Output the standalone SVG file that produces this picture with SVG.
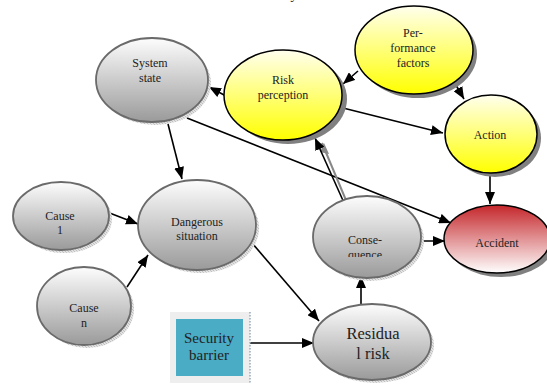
<svg xmlns="http://www.w3.org/2000/svg" width="547" height="385" viewBox="0 0 547 385">
<defs>
<linearGradient id="gGray" x1="0" y1="0" x2="0" y2="1">
<stop offset="0" stop-color="#fdfdfd"/>
<stop offset="1" stop-color="#9a9a9a"/>
</linearGradient>
<linearGradient id="gYellow" x1="0" y1="0" x2="0" y2="1">
<stop offset="0" stop-color="#ffffee"/>
<stop offset="1" stop-color="#ffff00"/>
</linearGradient>
<linearGradient id="gRed" x1="0" y1="0" x2="0" y2="1">
<stop offset="0" stop-color="#c4262a"/>
<stop offset="1" stop-color="#ffffff"/>
</linearGradient>
<pattern id="hatch" width="3" height="3" patternUnits="userSpaceOnUse">
<rect width="3" height="3" fill="#e2e2e2"/>
<path d="M0 0L3 3" stroke="#b8b8b8" stroke-width="0.8"/>
</pattern>
<marker id="arr" viewBox="0 0 12 10" refX="12" refY="5" markerWidth="12" markerHeight="10" markerUnits="userSpaceOnUse" orient="auto">
<path d="M0 0L12 5L0 10Z" fill="#000"/>
</marker>
<clipPath id="clipQ"><rect x="300" y="240" width="130" height="17"/></clipPath>
</defs>
<style>
.t{font-family:"Liberation Serif","Times New Roman",serif;font-size:12px;fill:#222;text-anchor:middle}
.big{font-size:16px}
.gray{fill:url(#gGray);stroke:#6a6a6a;stroke-width:1.8}
.ghost{fill:url(#hatch)}
.yel{fill:url(#gYellow);stroke:#000;stroke-width:1.5}
.ysh{fill:#808080}
.c{stroke:#000;stroke-width:1.6;fill:none;marker-end:url(#arr)}
</style>
<rect width="547" height="385" fill="#fff"/>
<text x="294" y="-1" class="t" style="font-size:14px">y</text>

<g id="connectors">
<line class="c" x1="358" y1="71" x2="343" y2="84"/>
<line class="c" x1="453" y1="80" x2="464" y2="99"/>
<line class="c" x1="343" y1="108" x2="443" y2="133"/>
<line class="c" x1="226" y1="96" x2="209" y2="87"/>
<line class="c" x1="168" y1="124" x2="182" y2="179"/>
<line class="c" x1="187" y1="118" x2="451" y2="223"/>
<line class="c" x1="410" y1="241" x2="445" y2="241"/>
<line x1="348" y1="205" x2="322" y2="143" stroke="#888" stroke-width="2"/>
<path d="M324 143L329 154L320 152Z" fill="#888"/>
<line class="c" x1="345" y1="205" x2="315" y2="138"/>
<line class="c" x1="252" y1="243" x2="319" y2="321"/>
<line class="c" x1="107" y1="212" x2="138" y2="224"/>
<line class="c" x1="127" y1="287" x2="148" y2="255"/>
<line class="c" x1="245" y1="343" x2="314" y2="343"/>
<line class="c" x1="361" y1="305" x2="361" y2="276"/>
<line class="c" x1="490" y1="174" x2="490" y2="204"/>
</g>

<g id="system-state">
<ellipse class="ghost" cx="155" cy="83" rx="56" ry="42"/>
<ellipse class="gray" cx="152" cy="80" rx="56" ry="42"/>
<text class="t" x="150" y="67">System</text>
<text class="t" x="150" y="82">state</text>
</g>

<g id="risk-perception">
<ellipse class="ysh" cx="288" cy="99" rx="59" ry="45"/>
<ellipse class="yel" cx="283" cy="95" rx="59" ry="45"/>
<text class="t" x="283" y="84">Risk</text>
<text class="t" x="283" y="99">perception</text>
</g>

<g id="performance-factors">
<ellipse class="ysh" cx="418" cy="54" rx="59" ry="44"/>
<ellipse class="yel" cx="414" cy="50" rx="59" ry="44"/>
<text class="t" x="413" y="37">Per-</text>
<text class="t" x="413" y="52">formance</text>
<text class="t" x="413" y="67">factors</text>
</g>

<g id="action">
<ellipse class="ysh" cx="495" cy="138" rx="46" ry="39"/>
<ellipse class="yel" cx="491" cy="134" rx="46" ry="39"/>
<text class="t" x="490" y="139">Action</text>
</g>

<g id="accident">
<ellipse class="ysh" cx="501" cy="243" rx="53" ry="34"/>
<ellipse cx="497" cy="239" rx="53" ry="34" fill="url(#gRed)" stroke="#000" stroke-width="1.5"/>
<text class="t" x="497" y="247">Accident</text>
</g>

<g id="consequence">
<ellipse class="ghost" cx="370" cy="240" rx="54" ry="41"/>
<ellipse class="gray" cx="367" cy="237" rx="54" ry="41"/>
<text class="t" x="365" y="244">Conse-</text>
<text class="t" x="365" y="259" clip-path="url(#clipQ)">quence</text>
</g>

<g id="dangerous-situation">
<ellipse class="ghost" cx="200" cy="228" rx="59" ry="45"/>
<ellipse class="gray" cx="197" cy="225" rx="59" ry="45"/>
<text class="t" x="197" y="226">Dangerous</text>
<text class="t" x="197" y="240">situation</text>
</g>

<g id="cause-1">
<ellipse class="ghost" cx="64" cy="219" rx="48" ry="34"/>
<ellipse class="gray" cx="61" cy="216" rx="48" ry="34"/>
<text class="t" x="60" y="220">Cause</text>
<text class="t" x="60" y="234">1</text>
</g>

<g id="cause-n">
<ellipse class="ghost" cx="87" cy="309" rx="47" ry="39"/>
<ellipse class="gray" cx="84" cy="306" rx="47" ry="39"/>
<text class="t" x="84" y="312">Cause</text>
<text class="t" x="84" y="327">n</text>
</g>

<g id="security-barrier">
<rect x="170" y="312" width="80" height="71" fill="#eeeeee"/>
<line x1="250" y1="312" x2="250" y2="383" stroke="#9ab" stroke-width="1.5" stroke-dasharray="1.5 1.5"/>
<rect x="176" y="319" width="67" height="57" fill="#4bacc6"/>
<text class="t" x="209" y="343" style="font-size:15px">Security</text>
<text class="t" x="209" y="360" style="font-size:15px">barrier</text>
</g>

<g id="residual-risk">
<ellipse class="ghost" cx="375" cy="345" rx="59" ry="38"/>
<ellipse class="gray" cx="372" cy="342" rx="59" ry="38"/>
<text class="t big" x="373" y="339" style="font-size:16.5px">Residua</text>
<text class="t big" x="373" y="359" style="font-size:16.5px">l risk</text>
</g>
</svg>
